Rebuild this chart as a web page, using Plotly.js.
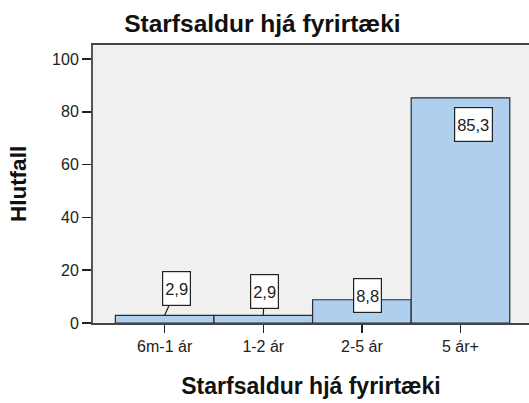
<!DOCTYPE html>
<html>
<head>
<meta charset="utf-8">
<script src="https://cdn.plot.ly/plotly-3.0.1.min.js"></script>
<style>html,body{margin:0;padding:0;background:#fff;}#chart{width:529px;height:403px;}</style>
</head>
<body>
<div id="chart"></div>
<script>
const categories = ["6m-1 ár", "1-2 ár", "2-5 ár", "5 ár+"];
const values = [2.9, 2.9, 8.8, 85.3];
const labels = ["2,9", "2,9", "8,8", "85,3"];
const yTicks = [0, 20, 40, 60, 80, 100];

// label box offsets in pixels (relative to the bar top centre)
const labelOffsets = [[12, -27, true], [1, -24, true], [6, -4, false], [13, 27, false]];

const FONT = "Liberation Sans, Arial, sans-serif";

const trace = {
  type: "bar",
  x: categories.map((c, i) => i),
  y: values,
  width: 1,
  marker: { color: "#aecfee", line: { color: "#2b2b2b", width: 1.2 } },
  hoverinfo: "skip"
};

const annotations = values.map((v, i) => ({
  x: i, y: v, xref: "x", yref: "y",
  text: labels[i],
  showarrow: true,
  arrowhead: 0, arrowwidth: 1.2,
  arrowcolor: labelOffsets[i][2] ? "#222" : "rgba(0,0,0,0)",
  ax: labelOffsets[i][0], ay: labelOffsets[i][1],
  bgcolor: "#ffffff", bordercolor: "#222", borderwidth: 1.2, borderpad: 2,
  height: 29,
  font: { family: FONT, size: 16.5, color: "#222" }
}));

const layout = {
  width: 529, height: 403,
  margin: { l: 93, r: 0, t: 45, b: 80 },
  paper_bgcolor: "#ffffff",
  plot_bgcolor: "#f0f0f0",
  showlegend: false,
  bargap: 0,
  title: {
    text: "Starfsaldur hjá fyrirtæki",
    font: { family: FONT, size: 24.5, color: "#111", weight: "bold" },
    x: 0.496, xanchor: "center", y: 0.943, yanchor: "middle"
  },
  xaxis: {
    range: [-0.727, 3.695],
    tickmode: "array",
    tickvals: categories.map((c, i) => i),
    ticktext: categories,
    ticks: "outside", ticklen: 8, tickwidth: 1.5, tickcolor: "#222",
    showline: true, linecolor: "#444", linewidth: 2, mirror: true,
    showgrid: false, zeroline: false,
    tickfont: { family: FONT, size: 16, color: "#222" },
    title: {
      text: "Starfsaldur hjá fyrirtæki",
      font: { family: FONT, size: 23, color: "#111", weight: "bold" },
      standoff: 24
    }
  },
  yaxis: {
    range: [0, 105.3],
    tickmode: "array",
    tickvals: yTicks,
    ticks: "outside", ticklen: 9, tickwidth: 1.5, tickcolor: "#222",
    showline: true, linecolor: "#555", linewidth: 2,
    showgrid: false, zeroline: false,
    tickfont: { family: FONT, size: 16, color: "#222" },
    title: {
      text: "Hlutfall",
      font: { family: FONT, size: 22.5, color: "#111", weight: "bold" },
      standoff: 19
    }
  },
  annotations: annotations
};

Plotly.newPlot("chart", [trace], layout, { displayModeBar: false, staticPlot: true });
</script>
</body>
</html>
